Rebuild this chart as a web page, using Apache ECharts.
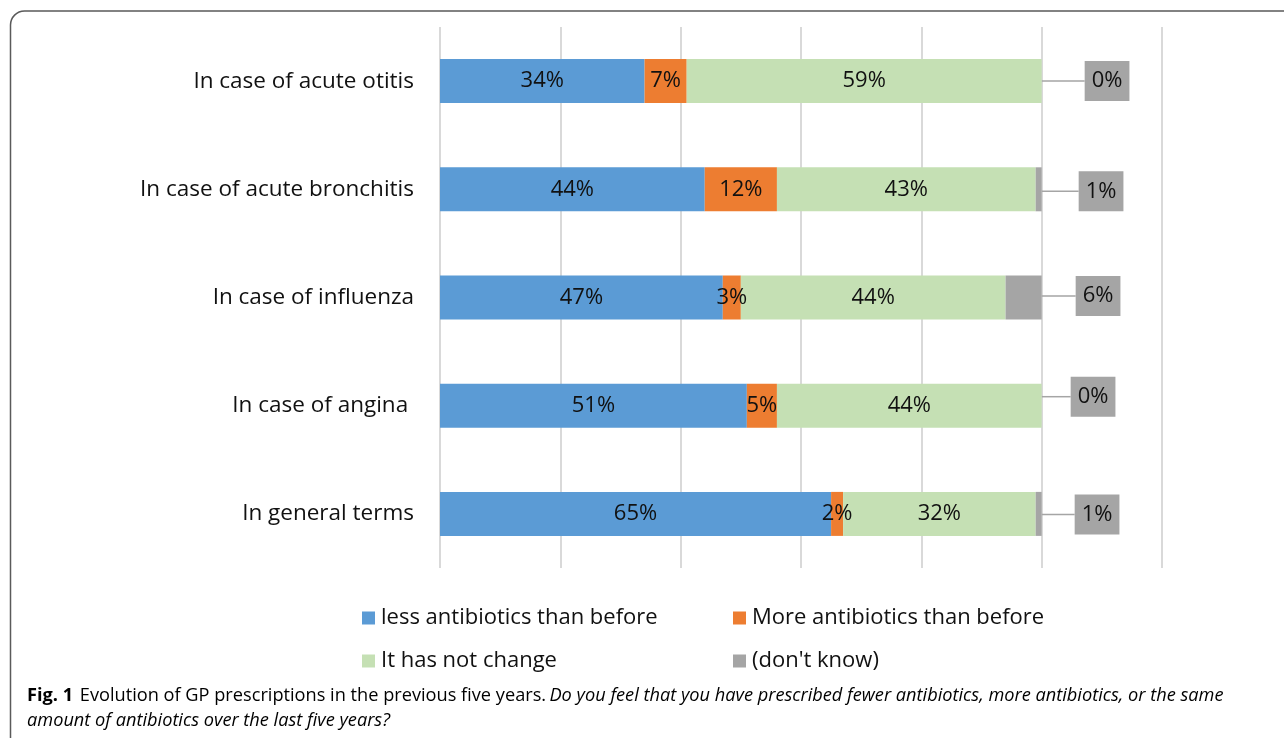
<!DOCTYPE html>
<html>
<head>
<meta charset="utf-8">
<script src="https://cdn.jsdelivr.net/npm/echarts@6/dist/echarts.min.js"></script>
<style>
  html, body { margin: 0; padding: 0; background: #fff; }
  #chart { width: 1284px; height: 738px; }
</style>
</head>
<body>
<div id="chart"></div>
<script>
// Survey answers per situation, in percent of respondents
const categories = [
  'In case of acute otitis',
  'In case of acute bronchitis',
  'In case of influenza',
  'In case of angina ',
  'In general terms'
];
const lessAntibiotics = [34, 44, 47, 51, 65];
const moreAntibiotics = [7, 12, 3, 5, 2];
const noChange = [59, 43, 44, 44, 32];
const dontKnow = [0, 1, 6, 0, 1];

const seriesNames = [
  'less antibiotics than before',
  'More antibiotics than before',
  'It has not change',
  "(don't know)"
];
const axisTicks = [0, 20, 40, 60, 80, 100, 120];

// call-out offsets for the "(don't know)" boxes (dx, dy from bar end)
const calloutDx = [43, 37, 34, 29, 33];
const calloutDy = [0, 2, -1.5, -9, 0.5];

const FONT = 'Open Sans';
const CAPTION_FONT = 'Open Sans';

const chart = echarts.init(document.getElementById('chart'), null, { renderer: 'canvas' });

const insideLabel = {
  show: true,
  position: 'inside',
  formatter: '{c}%',
  fontFamily: FONT,
  fontSize: 22,
  color: '#111'
};

function legendAt(name, left, top) {
  return {
    data: [name],
    left: left,
    top: top,
    icon: 'rect',
    itemWidth: 13,
    itemHeight: 13,
    selectedMode: false,
    textStyle: { fontFamily: FONT, fontSize: 22, color: '#111', padding: [0, 0, 0, 1] }
  };
}

chart.setOption({
  animation: false,
  backgroundColor: '#fff',
  grid: { left: 440, top: 27, width: 722, height: 541, containLabel: false },
  xAxis: {
    type: 'value',
    min: axisTicks[0],
    max: axisTicks[axisTicks.length - 1],
    interval: axisTicks[1] - axisTicks[0],
    axisLabel: { show: false },
    axisLine: { show: false },
    axisTick: { show: false },
    splitLine: { show: true, lineStyle: { color: '#d9d9d9', width: 2 } }
  },
  yAxis: {
    type: 'category',
    inverse: true,
    data: categories,
    axisLine: { show: false },
    axisTick: { show: false },
    axisLabel: { margin: 26, fontFamily: FONT, fontSize: 22.5, color: '#111' }
  },
  legend: [
    legendAt(seriesNames[0], 357, 602),
    legendAt(seriesNames[1], 728, 602),
    legendAt(seriesNames[2], 357, 645),
    legendAt(seriesNames[3], 728, 645)
  ],
  series: [
    {
      name: seriesNames[0], type: 'bar', stack: 'total', data: lessAntibiotics,
      barWidth: 44, itemStyle: { color: '#5b9bd5' }, label: insideLabel
    },
    {
      name: seriesNames[1], type: 'bar', stack: 'total', data: moreAntibiotics,
      barWidth: 44, itemStyle: { color: '#ed7d31' }, label: insideLabel
    },
    {
      name: seriesNames[2], type: 'bar', stack: 'total', data: noChange,
      barWidth: 44, itemStyle: { color: '#c5e0b4' }, label: insideLabel
    },
    {
      name: seriesNames[3], type: 'bar', stack: 'total', data: dontKnow,
      barWidth: 44, itemStyle: { color: '#a5a5a5' },
      label: {
        show: true,
        position: 'right',
        distance: 0,
        formatter: '{c}%',
        fontFamily: FONT,
        fontSize: 22,
        color: '#111',
        backgroundColor: '#a5a5a5',
        padding: [10, 7, 8, 7]
      },
      labelLine: { show: true, lineStyle: { color: '#a5a5a5', width: 1.5 } },
      labelLayout: function (p) {
        return { dx: calloutDx[p.dataIndex], dy: calloutDy[p.dataIndex] };
      }
    }
  ],
  graphic: [
    {
      type: 'rect',
      silent: true,
      shape: { x: 10.5, y: 11, width: 1320, height: 800, r: 14 },
      style: { fill: 'none', stroke: '#5a5a5a', lineWidth: 1.5 }
    },
    {
      type: 'text',
      left: 27,
      top: 683,
      style: {
        text: '{b|Fig. 1}  {n|Evolution of GP prescriptions in the previous five years.} {i|Do you feel that you have prescribed fewer antibiotics, more antibiotics, or the same}\n{i|amount of antibiotics over the last five years?}',
        lineHeight: 25,
        rich: {
          b: { fontFamily: CAPTION_FONT, fontWeight: 'bold', fontSize: 18.2, color: '#111', lineHeight: 25 },
          n: { fontFamily: CAPTION_FONT, fontSize: 18.2, color: '#333', lineHeight: 25 },
          i: { fontFamily: CAPTION_FONT, fontStyle: 'italic', fontSize: 18.2, color: '#333', lineHeight: 25 }
        }
      }
    }
  ]
});
</script>
</body>
</html>
